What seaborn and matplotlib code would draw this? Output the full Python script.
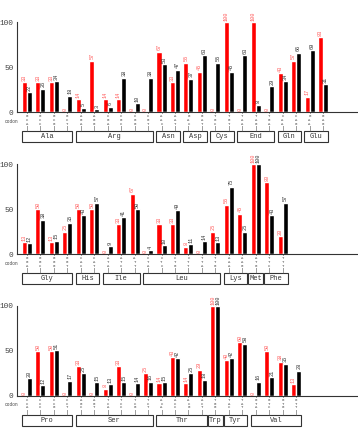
import pandas as pd
import seaborn as sns
import matplotlib.pyplot as plt
from matplotlib.patches import Rectangle

# codon usage (%) per amino acid: red series vs black series
codons1 = ["GCA", "GCC", "GCG", "GCT", "AGA", "AGG", "CGA", "CGC", "CGG", "CGT",
           "AAC", "AAT", "GAC", "GAT", "TGC", "TGT", "TAA", "TAG", "TGA",
           "CAA", "CAG", "GAA", "GAG"]
aa1 = ["Ala"] * 4 + ["Arg"] * 6 + ["Asn"] * 2 + ["Asp"] * 2 + ["Cys"] * 2 + \
      ["End"] * 3 + ["Gln"] * 2 + ["Glu"] * 2
red1 = [33, 33, 33, 0, 14, 57, 14, 14, 0, 0, 67, 33, 55, 45, 0, 100, 0, 100, 0, 43, 57, 17, 83]
black1 = [22, 26, 34, 18, 5, 3, 6, 38, 10, 38, 53, 47, 37, 63, 55, 45, 63, 8, 29, 34, 66, 69, 31]

codons2 = ["GGA", "GGC", "GGG", "GGT", "CAC", "CAT", "ATA", "ATC", "ATT",
           "CTA", "CTC", "CTG", "CTT", "TTA", "TTG", "AAA", "AAG", "ATG", "TTC", "TTT"]
aa2 = ["Gly"] * 4 + ["His"] * 2 + ["Ile"] * 3 + ["Leu"] * 6 + ["Lys"] * 2 + \
      ["Met"] + ["Phe"] * 2
red2 = [13, 50, 13, 25, 50, 50, 0, 33, 67, 0, 33, 33, 8, 0, 25, 55, 45, 100, 80, 20]
black2 = [12, 38, 15, 35, 43, 57, 9, 41, 50, 4, 10, 49, 11, 14, 13, 75, 25, 100, 43, 57]

codons3 = ["CCA", "CCC", "CCG", "CCT", "AGC", "AGT", "TCA", "TCC", "TCG", "TCT",
           "ACA", "ACC", "ACG", "ACT", "TGG", "TAC", "TAT", "GTA", "GTC", "GTG", "GTT"]
aa3 = ["Pro"] * 4 + ["Ser"] * 6 + ["Thr"] * 4 + ["Trp"] + ["Tyr"] * 2 + ["Val"] * 4
red3 = [0, 50, 50, 0, 33, 0, 8, 33, 0, 25, 14, 43, 14, 29, 100, 40, 60, 0, 50, 38, 13]
black3 = [20, 12, 51, 17, 25, 15, 13, 15, 14, 16, 15, 42, 25, 18, 100, 42, 58, 16, 21, 36, 28]

panels = [(codons1, aa1, red1, black1),
          (codons2, aa2, red2, black2),
          (codons3, aa3, red3, black3)]

sns.set_style("white")
plt.rcParams['font.family'] = ['Liberation Mono', 'DejaVu Sans Mono']

fig = plt.figure(figsize=(3.58, 4.30), dpi=100)
bottoms = [0.7395, 0.4093, 0.0791]
line_col = "#333333"

for (codons, aas, red, black), b in zip(panels, bottoms):
    ax = fig.add_axes([0.0475, b, 0.9525, 0.2093])
    df = pd.DataFrame({
        "codon": codons * 2,
        "value": red + black,
        "series": ["red"] * len(codons) + ["black"] * len(codons),
    })
    sns.barplot(data=df, x="codon", y="value", hue="series", order=codons,
                hue_order=["red", "black"], palette={"red": "#ff0000", "black": "#000000"},
                width=0.75, saturation=1, legend=False, ax=ax)

    # value labels above bars
    for cont, col in zip(ax.containers, ["#ff5a5a", "#333333"]):
        ax.bar_label(cont, labels=[str(int(v)) for v in cont.datavalues], rotation=90,
                     fontsize=3.8, color=col, padding=1, clip_on=False)

    ax.set_xlim(-0.74, 24.6)
    ax.set_ylim(0, 100)
    ax.set_yticks([0, 50, 100])
    ax.set_yticklabels(["0", "50", "100"], fontsize=5.6, color="#444444")
    ax.tick_params(axis="y", length=2, width=0.6, color=line_col, pad=0.5)
    ax.tick_params(axis="x", length=0, labelbottom=False)
    ax.set_xlabel("")
    ax.set_ylabel("")
    for s in ["top", "right"]:
        ax.spines[s].set_visible(False)
    for s in ["left", "bottom"]:
        ax.spines[s].set_color(line_col)
        ax.spines[s].set_linewidth(0.8)

    # codon labels (stacked letters) and connector ticks
    for i, c in enumerate(codons):
        ax.plot([i, i], [0, -21], color="#555555", lw=0.4, clip_on=False)
        ax.text(i, -2, "\n".join(c), ha="center", va="top", fontsize=2.8,
                linespacing=0.95, color="#444444",
                bbox=dict(boxstyle="square,pad=0.05", fc="white", ec="none"))
    ax.text(-1.15, -10, "codon", ha="center", va="center", fontsize=3.3, color="#444444")

    # amino acid boxes
    start = 0
    for i in range(1, len(aas) + 1):
        if i == len(aas) or aas[i] != aas[start]:
            pad = 0.55 if i - start == 1 else 0.38
            x0, x1 = start - pad, i - 1 + pad
            ax.add_patch(Rectangle((x0, -33), x1 - x0, 12, fill=True, fc="white",
                                   ec="#333333", lw=0.8, clip_on=False))
            ax.text((x0 + x1) / 2, -27, aas[start], ha="center", va="center",
                    fontsize=5.0, color="#333333")
            start = i

fig.savefig("out.png", dpi=100)
